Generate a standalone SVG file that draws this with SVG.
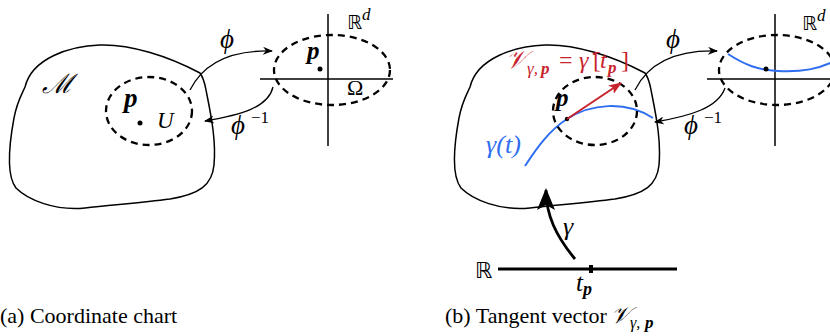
<svg xmlns="http://www.w3.org/2000/svg" xmlns:xlink="http://www.w3.org/1999/xlink" width="830" height="336" viewBox="0 0 830 336">
<style>
.blob{fill:none;stroke:#000;stroke-width:1.5}
.dash{fill:none;stroke:#000;stroke-width:2.3;stroke-dasharray:7 5}
.axis{fill:none;stroke:#000;stroke-width:1.5}
.arr{fill:none;stroke:#000;stroke-width:1.3}
.blue{fill:none;stroke:#2f6ef0;stroke-width:2}
text{font-family:'Liberation Serif','Times New Roman',serif}
.m{font-style:italic}
.pb{font-style:italic;font-weight:bold}
.bb{font-family:'DejaVu Sans','Liberation Sans',sans-serif}
</style>
<defs>
<path id="blobpath" d="M25,87 C32,58 70,46 100,45 C130,44 168,56 200,73 C205,80 205,86 207,95 C212,120 216,142 214,165 C212,185 200,194 170,199 C140,203 110,205 85,208 C55,211 28,200 16,188 C6,175 9,145 14,118 C17,102 21,96 25,87 Z"/>
<marker id="ah" markerWidth="10" markerHeight="8" refX="9" refY="4" orient="auto" markerUnits="userSpaceOnUse">
<path d="M0,0 L10,4 L0,8 L3,4 Z" fill="#000"/>
</marker>
<marker id="ahred" markerWidth="13" markerHeight="10" refX="12" refY="5" orient="auto" markerUnits="userSpaceOnUse">
<path d="M0,0 L13,5 L0,10 L3,5 Z" fill="#c8232c"/>
</marker>
<marker id="ahbig" markerWidth="22" markerHeight="18" refX="20" refY="9" orient="auto" markerUnits="userSpaceOnUse">
<path d="M0,0 L22,9 L0,18 L5,9 Z" fill="#000"/>
</marker>
</defs>

<!-- Panel (a) -->
<g id="manifold-a">
<use xlink:href="#blobpath" class="blob"/>
<text x="42" y="93" class="m" style="font-size:27px">ℳ</text>
</g>
<g id="U-a">
<ellipse cx="149" cy="111" rx="43" ry="34" class="dash"/>
<text x="124" y="107" class="pb" style="font-size:27px">p</text>
<circle cx="140" cy="123" r="2.5" fill="#000"/>
<text x="157" y="128" class="m" style="font-size:23px">U</text>
</g>
<g id="Rd-a">
<line x1="260" y1="79" x2="393" y2="79" class="axis"/>
<line x1="328" y1="14" x2="328" y2="146" class="axis"/>
<ellipse cx="332" cy="70" rx="58" ry="35" class="dash"/>
<text x="347" y="29" class="bb" style="font-size:19px">ℝ</text>
<text x="362" y="20" class="m" style="font-size:17px">d</text>
<text x="307" y="59" class="pb" style="font-size:25px">p</text>
<circle cx="320" cy="69" r="2.5" fill="#000"/>
<text x="347" y="95" style="font-size:22px">Ω</text>
</g>
<g id="connectors-a">
<path d="M190,90 C205,60 235,50 272,51" class="arr" marker-end="url(#ah)"/>
<path d="M273,87 C268,108 240,115 205,121" class="arr" marker-end="url(#ah)"/>
<text x="220" y="48" class="m" style="font-size:27px">ϕ</text>
<text x="231" y="134" class="m" style="font-size:27px">ϕ</text>
<text x="251" y="123" style="font-size:17px">−1</text>
</g>
<text x="0" y="323" style="font-size:22px">(a) Coordinate chart</text>

<!-- Panel (b) -->
<g id="manifold-b">
<use xlink:href="#blobpath" class="blob" transform="translate(445,0)"/>
<path d="M525,166 C538,146 550,130 567,119 C590,104 625,100 653,118" class="blue"/>
<text x="486" y="153" class="m" style="font-size:26px" fill="#2f6ef0">γ(t)</text>
</g>
<g id="U-b">
<ellipse cx="595" cy="111" rx="42" ry="34" class="dash"/>
<text x="556" y="106" class="pb" style="font-size:25px">p</text>
<circle cx="567" cy="119" r="2.2" fill="#000"/>
</g>
<g id="tangent-b">
<path d="M567,119 L621,83" stroke="#c8232c" stroke-width="2" fill="none" marker-end="url(#ahred)"/>
<text y="68" class="m" style="font-size:24px" fill="#c8232c"><tspan x="506" style="font-size:25px">𝒱</tspan><tspan x="527" y="74" style="font-size:17px">γ,</tspan><tspan x="541" y="74" class="pb" style="font-size:17px">p</tspan><tspan x="559" y="68" style="font-style:normal">=</tspan><tspan x="579">γ̇</tspan><tspan x="593" style="font-style:normal">[</tspan><tspan x="600">t</tspan><tspan x="608" y="73" class="pb" style="font-size:17px">p</tspan><tspan x="621" y="68" style="font-style:normal">]</tspan></text>
</g>
<g id="Rd-b">
<line x1="707" y1="79" x2="830" y2="79" class="axis"/>
<line x1="775" y1="14" x2="775" y2="146" class="axis"/>
<ellipse cx="777" cy="70" rx="58" ry="35" class="dash"/>
<path d="M728,54 C745,65 758,70 778,71 C800,72 820,70 840,58" class="blue"/>
<circle cx="766" cy="69" r="2.5" fill="#000"/>
<text x="802" y="30" class="bb" style="font-size:19px">ℝ</text>
<text x="817" y="21" class="m" style="font-size:17px">d</text>
</g>
<g id="R-line">
<line x1="498" y1="269" x2="677" y2="269" stroke="#000" stroke-width="3"/>
<rect x="589" y="265" width="4" height="8" fill="#000"/>
<text x="475" y="278" class="bb" style="font-size:22px">ℝ</text>
<text x="576" y="291" class="m" style="font-size:25px">t<tspan class="pb" style="font-size:18px" dy="4">p</tspan></text>
</g>
<g id="connectors-b">
<path d="M635,90 C650,60 680,50 717,51" class="arr" marker-end="url(#ah)"/>
<path d="M725,88 C718,108 690,116 655,122" class="arr" marker-end="url(#ah)"/>
<text x="666" y="48" class="m" style="font-size:27px">ϕ</text>
<text x="684" y="134" class="m" style="font-size:27px">ϕ</text>
<text x="704" y="123" style="font-size:17px">−1</text>
<path d="M575,259 C556,236 546,215 546,190" fill="none" stroke="#000" stroke-width="2.8" marker-end="url(#ahbig)"/>
<text x="563" y="235" class="m" style="font-size:26px">γ</text>
</g>
<text x="445" y="323" style="font-size:22px">(b) Tangent vector <tspan x="611" class="m" style="font-size:23px">𝒱</tspan><tspan x="630" y="328" class="m" style="font-size:16px">γ,</tspan><tspan x="645" y="328" class="pb" style="font-size:17px">p</tspan></text>
</svg>
